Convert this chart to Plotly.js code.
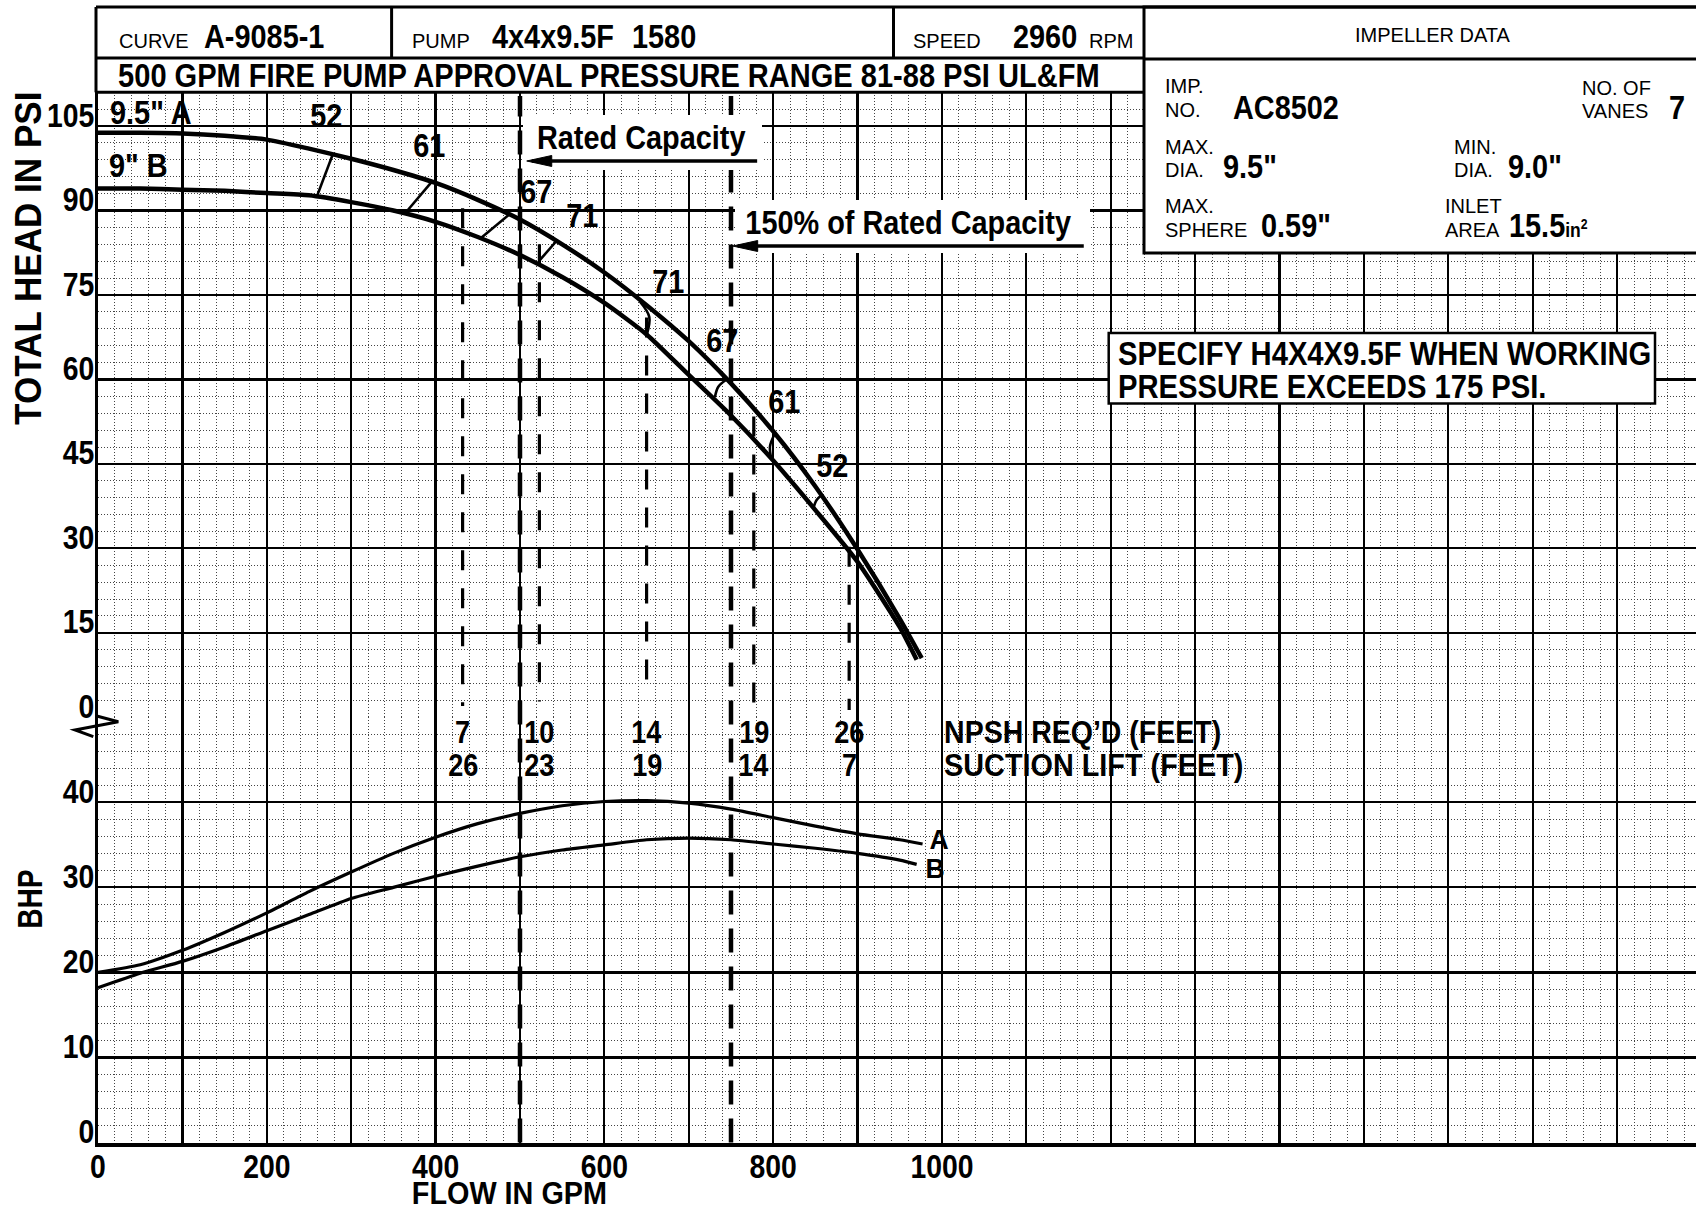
<!DOCTYPE html>
<html><head><meta charset="utf-8">
<script src="https://cdn.plot.ly/plotly-3.0.1.min.js"></script>
<style>html,body{margin:0;padding:0;background:#fff;}#chart{width:1696px;height:1212px;}</style>
</head><body><div id="chart"></div>
<script>
// ---------------- DATA ----------------
const flowHeadA = [0,50,100,150,200,250,300,350,400,450,500,550,600,650,700,750,800,850,900,950,976];
const headA     = [103.8,103.8,103.7,103.3,102.6,101.0,99.2,97.2,94.9,91.9,88.4,84.0,79.0,73.2,66.8,59.3,50.8,41.0,29.8,17.5,10.5];
const flowHeadB = [0,50,100,150,200,250,300,350,400,450,500,550,600,650,700,750,800,850,900,950,970];
const headB     = [93.9,93.9,93.7,93.5,93.1,92.7,91.5,90.0,88.0,85.3,82.1,78.2,73.6,68.0,60.8,53.6,45.6,36.8,27.6,16.0,10.2];

const flowBhpA = [0,50,100,150,200,250,300,350,400,450,500,550,600,650,700,750,800,850,900,950,977];
const bhpA     = [20.0,20.9,22.6,24.7,27.0,29.5,31.8,34.0,35.9,37.5,38.7,39.6,40.1,40.2,39.9,39.2,38.2,37.2,36.3,35.6,35.1];
const flowBhpB = [0,50,100,150,200,250,300,350,400,450,500,550,600,650,700,750,800,850,900,950,970];
const bhpB     = [18.2,19.9,21.3,23.0,24.9,26.8,28.7,30.0,31.3,32.5,33.6,34.4,35.0,35.6,35.8,35.6,35.1,34.6,34.0,33.2,32.7];

// efficiency iso-lines (A end -> B end)
const effLeftFlowA = [278.0,395.4,487.3,542.7];
const effLeftHeadA = [99.9,95.1,89.3,84.5];
const effLeftFlowB = [259.8,364.9,453.4,522.9];
const effLeftHeadB = [92.7,89.7,85.1,81.1];
const effRightFlowA   = [642.2,744.1,802.1,857.5];
const effRightHeadA   = [73.8,59.9,50.4,39.5];
const effRightFlowMid = [653.2,735.0,796.2,851.5];
const effRightHeadMid = [71.1,58.7,48.1,38.6];
const effRightFlowB   = [650.1,731.0,798.2,847.5];
const effRightHeadB   = [67.9,56.9,45.7,37.1];
const effLabels    = ['52','61','67','71','71','67','61','52'];
const effLabelFlow = [270.9,392.5,519.0,574.3,675.7,740.2,813.2,870.5];
const effLabelHead = [106.9,101.6,93.3,89.2,77.4,67.0,56.0,44.8];

// NPSH
const npshFlow    = [432,523,650,777,890];
const npshReq     = ['7','10','14','19','26'];
const suctionLift = ['26','23','19','14','7'];
const npshTop     = [90.4,84.0,71.0,53.4,30.3];
const npshBottom  = [2.0,2.8,4.8,1.3,1.3];

// rated capacity markers
const ratedFlow      = [500,750];
const arrowHeadFlow  = [508,752];
const arrowTailFlow  = [781,1168];
const arrowHeadPsi   = [98.8,83.7];

// ticks
const flowGridTicks = [0,100,200,300,400,500,600,700,800,900,1000,1100,1200,1300,1400,1500,1600,1700,1800];
const flowTickText  = ['0','','200','','400','','600','','800','','1000','','','','','','','',''];
const headTicks = [0,15,30,45,60,75,90,105];
const headTickText = ['0','15','30','45','60','75','90','105'];
const bhpTicks = [0,10,20,30,40];
const bhpTickText = ['0','10','20','30','40'];

// ---------------- LAYOUT HELPERS ----------------
const W = 1696, H = 1212;
const PX = v => v / W;
const PY = v => 1 - v / H;
const BOLD = "'Liberation Sans',Arial,Helvetica,sans-serif";
const REG = "'Liberation Sans',Arial,Helvetica,sans-serif";
const INK = '#000';
const NARROW_SCALE = 0.875;

const ann = [];
const annScale = [];
function addAnn(a, s) { ann.push(a); annScale.push(s); return a; }
function ptxt(text, x, y, size, bold, anchor, scale) {
  return addAnn({text: text, xref: 'paper', yref: 'paper', x: PX(x), y: PY(y), showarrow: false,
    xanchor: anchor || 'left', yanchor: 'middle',
    font: {family: bold ? BOLD : REG, size: size, color: INK, weight: bold ? 'bold' : 'normal'}},
    bold ? (scale || NARROW_SCALE) : 1);
}
function dtxt(text, x, y, yref, size, anchor, scale) {
  return addAnn({text: text, xref: 'x', yref: yref, x: x, y: y, showarrow: false,
    xanchor: anchor || 'center', yanchor: 'middle',
    font: {family: BOLD, size: size, color: INK, weight: 'bold'}}, scale || NARROW_SCALE);
}

// ---------------- TRACES ----------------
const traces = [];
traces.push({x: flowHeadA, y: headA, xaxis: 'x', yaxis: 'y', mode: 'lines', hoverinfo: 'skip',
  line: {color: INK, width: 4.5, shape: 'spline', smoothing: 0.6}});
traces.push({x: flowHeadB, y: headB, xaxis: 'x', yaxis: 'y', mode: 'lines', hoverinfo: 'skip',
  line: {color: INK, width: 4.5, shape: 'spline', smoothing: 0.6}});
traces.push({x: flowBhpA, y: bhpA, xaxis: 'x', yaxis: 'y2', mode: 'lines', hoverinfo: 'skip',
  line: {color: INK, width: 3.2, shape: 'spline', smoothing: 0.6}});
traces.push({x: flowBhpB, y: bhpB, xaxis: 'x', yaxis: 'y2', mode: 'lines', hoverinfo: 'skip',
  line: {color: INK, width: 3.2, shape: 'spline', smoothing: 0.6}});

let ex = [], ey = [];
effLeftFlowA.forEach((f, i) => { ex.push(f, effLeftFlowB[i], null); ey.push(effLeftHeadA[i], effLeftHeadB[i], null); });
traces.push({x: ex, y: ey, xaxis: 'x', yaxis: 'y', mode: 'lines', hoverinfo: 'skip', line: {color: INK, width: 2.6}});
effRightFlowA.forEach((f, i) => {
  traces.push({x: [f, effRightFlowMid[i], effRightFlowB[i]], y: [effRightHeadA[i], effRightHeadMid[i], effRightHeadB[i]],
    xaxis: 'x', yaxis: 'y', mode: 'lines', hoverinfo: 'skip', line: {color: INK, width: 2.6, shape: 'spline', smoothing: 1}});
});

let nx = [], ny = [];
npshFlow.forEach((f, i) => { nx.push(f, f, null); ny.push(npshTop[i], npshBottom[i], null); });
traces.push({x: nx, y: ny, xaxis: 'x', yaxis: 'y', mode: 'lines', hoverinfo: 'skip',
  line: {color: INK, width: 3.2, dash: '20px,18px'}});

// ---------------- SHAPES ----------------
const shapes = [];
function pline(x0, y0, x1, y1, w) {
  shapes.push({type: 'line', xref: 'paper', yref: 'paper', x0: PX(x0), y0: PY(y0), x1: PX(x1), y1: PY(y1),
    line: {color: INK, width: w || 3}, layer: 'above'});
}
function prect(x0, y0, x1, y1, w) {
  shapes.push({type: 'rect', xref: 'paper', yref: 'paper', x0: PX(x0), y0: PY(y0), x1: PX(x1), y1: PY(y1),
    fillcolor: '#fff', line: {color: INK, width: w || 0}, layer: 'above'});
}
// rated capacity lines (drawn first so the label box interrupts the 150% line as on the sheet)
ratedFlow.forEach(f => {
  shapes.push({type: 'line', xref: 'x', yref: 'paper', x0: f, x1: f, y0: PY(1142.5), y1: PY(96),
    line: {color: INK, width: 4.5, dash: '24px,14px'}, layer: 'above'});
});
// label backgrounds
prect(523, 115, 762, 170, 0);
prect(735, 200, 1090, 253, 0);
prect(1108.7, 333, 1655, 403.5, 2.5);
// impeller data box
prect(1144, 7, 1699, 253, 3);
pline(1144, 59, 1696, 59, 3);
// header frame
pline(96, 7, 1696, 7, 3);
pline(96, 7, 96, 92.3, 3);
pline(96, 58, 1144, 58, 3);
pline(96, 92.3, 1144, 92.3, 3);
pline(391.6, 7, 391.6, 58, 3);
pline(893.5, 7, 893.5, 58, 3);
// arrows: shaft + pixel-sized head anchored at the data point
arrowHeadFlow.forEach((f, i) => {
  shapes.push({type: 'line', xref: 'x', yref: 'y', x0: arrowTailFlow[i], x1: f + 6, y0: arrowHeadPsi[i], y1: arrowHeadPsi[i],
    line: {color: INK, width: 3.4}, layer: 'above'});
  shapes.push({type: 'path', xref: 'x', yref: 'y', xsizemode: 'pixel', ysizemode: 'pixel',
    xanchor: f, yanchor: arrowHeadPsi[i], path: 'M0,0 L25,5.5 L25,-5.5 Z',
    fillcolor: INK, line: {color: INK, width: 1}, layer: 'above'});
});
// axis break symbol
shapes.push({type: 'path', xref: 'paper', yref: 'paper', layer: 'above',
  path: `M${PX(96.7)},${PY(716)} L${PX(118.3)},${PY(721.7)} L${PX(75)},${PY(730)} L${PX(93.3)},${PY(736.7)}`,
  line: {color: INK, width: 3}});

// ---------------- ANNOTATIONS ----------------
// header row
ptxt('CURVE', 116.7, 40.5, 20, false);
ptxt('A-9085-1', 202, 36, 33, true);
ptxt('PUMP', 409.5, 40.5, 20, false);
ptxt('4x4x9.5F', 490, 36, 33, true);
ptxt('1580', 630, 36, 33, true);
ptxt('SPEED', 911, 40.5, 20, false);
ptxt('2960', 1011, 36, 33, true);
ptxt('RPM', 1087, 40.5, 20, false);
ptxt('IMPELLER DATA', 1433, 35.5, 20, false, 'center');
ptxt('500 GPM FIRE PUMP APPROVAL PRESSURE RANGE 81-88 PSI UL&amp;FM', 116, 76, 33, true, 'left', 0.88);
// impeller data
ptxt('IMP.', 1162.7, 86.5, 20, false);
ptxt('NO.', 1162.7, 110, 20, false);
ptxt('AC8502', 1231, 107, 33, true);
ptxt('NO. OF', 1580, 88, 20, false);
ptxt('VANES', 1580, 111, 20, false);
ptxt('7', 1666.5, 107, 33, true);
ptxt('MAX.', 1162.7, 146.5, 20, false);
ptxt('DIA.', 1162.7, 170, 20, false);
ptxt('9.5"', 1221, 166, 33, true);
ptxt('MIN.', 1451.7, 146.5, 20, false);
ptxt('DIA.', 1451.7, 170, 20, false);
ptxt('9.0"', 1506, 166, 33, true);
ptxt('MAX.', 1162.7, 205.5, 20, false);
ptxt('SPHERE', 1162.7, 230, 20, false);
ptxt('0.59"', 1259, 226, 33, true);
ptxt('INLET', 1443, 205.5, 20, false);
ptxt('AREA', 1443, 230, 20, false);
ptxt('15.5<span style="font-size:20px">in<sup>2</sup></span>', 1507, 226, 33, true);
// axis titles
ptxt('TOTAL HEAD IN PSI', 29.2, 258, 36, true, 'center', 0.975).textangle = -90;
ptxt('BHP', 29.2, 899, 36, true, 'center', 0.78).textangle = -90;
ptxt('FLOW IN GPM', 509.5, 1193, 32, true, 'center', 0.9);
// curve labels
dtxt('9.5" A', 11.8, 107.4, 'y', 33, 'left');
dtxt('9" B', 10.7, 98.0, 'y', 33, 'left');
effLabels.forEach((t, i) => dtxt(t, effLabelFlow[i], effLabelHead[i], 'y', 33));
dtxt('A', 996.4, 35.6, 'y2', 28, 'center', 0.95);
dtxt('B', 991.2, 32.2, 'y2', 28, 'center', 0.95);
// rated capacity
dtxt('Rated Capacity', 644.5, 103.0, 'y', 33);
dtxt('150% of Rated Capacity', 960.4, 87.8, 'y', 33);
// specify box
dtxt('SPECIFY H4X4X9.5F WHEN WORKING', 1206, 64.6, 'y', 33, 'left', 0.885);
dtxt('PRESSURE EXCEEDS 175 PSI.', 1206, 58.8, 'y', 33, 'left', 0.885);
// NPSH
npshFlow.forEach((f, i) => {
  dtxt(npshReq[i], f, 48.2, 'y2', 31);
  dtxt(suctionLift[i], f, 44.3, 'y2', 31);
});
dtxt('NPSH REQ\u2019D (FEET)', 1000, 48.2, 'y2', 31, 'left', 0.92);
dtxt('SUCTION LIFT (FEET)', 1000, 44.3, 'y2', 31, 'left', 0.93);

// ---------------- AXES ----------------
const tickFont = {family: BOLD, size: 33, color: INK, weight: 'bold'};
const majorGrid = {showgrid: true, gridcolor: INK, gridwidth: 2.2, zeroline: false, showline: true,
  linecolor: INK, ticks: '', automargin: false, fixedrange: true, tickfont: tickFont};
const minorGrid = d => ({tick0: 0, dtick: d, showgrid: true, gridcolor: '#444', gridwidth: 1, griddash: '1px,2px', ticks: ''});

const layout = {
  width: W, height: H, margin: {l: 0, r: 0, t: 0, b: 0, pad: 0},
  paper_bgcolor: '#fff', plot_bgcolor: '#fff', showlegend: false,
  xaxis: Object.assign({}, majorGrid, {domain: [PX(98), 1], range: [0, 1893.4], anchor: 'y2',
    tickmode: 'array', tickvals: flowGridTicks, ticktext: flowTickText, linewidth: 4, ticklabelstandoff: -8,
    minor: minorGrid(20)}),
  yaxis: Object.assign({}, majorGrid, {domain: [PY(717.3), PY(92.3)], range: [0, 111.0], anchor: 'x',
    tickmode: 'array', tickvals: headTicks, ticktext: headTickText, linewidth: 3, ticklabelshift: -11,
    ticklabelstandoff: -6, minor: minorGrid(3)}),
  yaxis2: Object.assign({}, majorGrid, {domain: [PY(1142.5), PY(717.3)], range: [0, 50], anchor: 'x',
    tickmode: 'array', tickvals: bhpTicks, ticktext: bhpTickText, linewidth: 3, ticklabelshift: -11,
    ticklabelstandoff: -6, minor: minorGrid(2)}),
  shapes: shapes,
  annotations: ann
};

// condense bold text horizontally to imitate the narrow typeface of the original sheet
function condense(gd) {
  gd.querySelectorAll('g.annotation').forEach(g => {
    const i = +g.getAttribute('data-index');
    const s = annScale[i];
    if (!s || s === 1) return;
    const t = g.querySelector('text.annotation-text');
    if (!t) return;
    const b = t.getBBox();
    const a = ann[i];
    const ox = a.xanchor === 'left' ? b.x : (a.xanchor === 'right' ? b.x + b.width : b.x + b.width / 2);
    const tr = t.getAttribute('transform') || '';
    t.setAttribute('transform', `${tr} translate(${ox},0) scale(${s},1) translate(${-ox},0)`);
  });
  gd.querySelectorAll('g.xtick text, g.ytick text, g.y2tick text').forEach(t => {
    const b = t.getBBox();
    if (!b.width) return;
    const anchor = t.getAttribute('text-anchor') || 'middle';
    const ox = anchor === 'end' ? b.x + b.width : (anchor === 'start' ? b.x : b.x + b.width / 2);
    const tr = t.getAttribute('transform') || '';
    t.setAttribute('transform', `${tr} translate(${ox},0) scale(0.86,1) translate(${-ox},0)`);
  });
}

Plotly.newPlot('chart', traces, layout, {displayModeBar: false, staticPlot: true}).then(condense);
</script></body></html>
